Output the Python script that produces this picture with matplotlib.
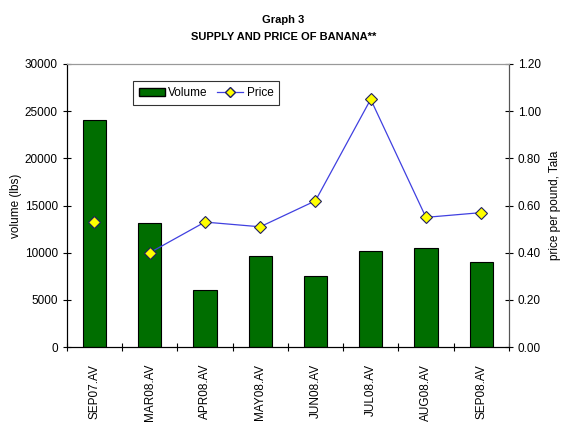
import numpy as np
import matplotlib
matplotlib.use('Agg')
import matplotlib.pyplot as plt
from matplotlib.lines import Line2D
from matplotlib.patches import Patch

plt.rcParams['font.family'] = ['Liberation Sans', 'DejaVu Sans']

meses   = ['SEP07.AV', 'MAR08.AV', 'APR08.AV', 'MAY08.AV', 'JUN08.AV', 'JUL08.AV', 'AUG08.AV', 'SEP08.AV']
volume  = [24100, 13200, 6100, 9650, 7500, 10150, 10500, 9000]
preco   = [0.53, 0.40, 0.53, 0.51, 0.62, 1.05, 0.55, 0.57]

VERDE = '#006E00'
AZUL = '#4040E0'

fig = plt.figure(figsize=(5.61, 4.26), dpi=100)
ax = fig.add_axes([0.119, 0.185, 0.788, 0.665])
x = np.arange(len(meses))

ax.bar(x, volume, width=0.42, color=VERDE, edgecolor='black', linewidth=0.8,
       label='Volume', zorder=2)
ax.set_xlim(-0.5, len(meses) - 0.5)
ax.set_ylim(0, 30000)
ax.set_yticks(range(0, 30001, 5000))
ax.set_ylabel('volume (lbs)', fontsize=8.5, labelpad=2)
ax.tick_params(axis='y', direction='inout', length=6, labelsize=8.5, width=0.8)

# ticks nas fronteiras, rótulos no centro
ax.set_xticks(x)
ax.set_xticklabels(meses, rotation=90, fontsize=8.5)
ax.tick_params(axis='x', which='major', length=0, pad=12)
ax.set_xticks(np.arange(-0.5, len(meses)), minor=True)
ax.tick_params(axis='x', which='minor', direction='inout', length=6, width=0.8)

ax2 = ax.twinx()
ax2.plot(x[1:], preco[1:], color=AZUL, linewidth=0.9, zorder=3)
ax2.plot(x, preco, linestyle='none', marker='D', markersize=6,
         markerfacecolor='#FFFF00', markeredgecolor='#202060', markeredgewidth=0.8, zorder=4)
ax2.set_ylim(0, 1.2)
ax2.set_yticks(np.arange(0, 1.21, 0.2))
ax2.set_yticklabels([f'{v:.2f}' for v in np.arange(0, 1.21, 0.2)])
ax2.set_ylabel('price per pound, Tala', fontsize=8.5, labelpad=6)
ax2.tick_params(axis='y', direction='inout', length=6, labelsize=8.5, width=0.8)

for a in (ax, ax2):
    a.spines['top'].set_color('#999999')
    a.spines['top'].set_linewidth(0.8)
    a.spines['left'].set_linewidth(0.8)
    a.spines['bottom'].set_linewidth(0.8)
    a.spines['right'].set_color('#555555')
    a.spines['right'].set_linewidth(0.8)

# legenda
handles = [Patch(facecolor=VERDE, edgecolor='black', label='Volume'),
           Line2D([0], [0], color=AZUL, linewidth=0.9, marker='D', markersize=5,
                  markerfacecolor='#FFFF00', markeredgecolor='#202060', label='Price')]
leg = ax.legend(handles=handles, loc='upper left', bbox_to_anchor=(0.136, 0.96), ncol=2,
                fontsize=8.5, frameon=True, fancybox=False, edgecolor='black',
                handlelength=2.2, handletextpad=0.3, columnspacing=0.8, borderpad=0.5)
leg.get_frame().set_linewidth(0.8)

fig.text(0.505, 0.952, 'Graph 3', ha='center', va='center', fontsize=8, fontweight='bold')
fig.text(0.505, 0.913, 'SUPPLY AND PRICE OF BANANA**', ha='center', va='center',
         fontsize=8, fontweight='bold')

plt.savefig('out.png', dpi=100)
